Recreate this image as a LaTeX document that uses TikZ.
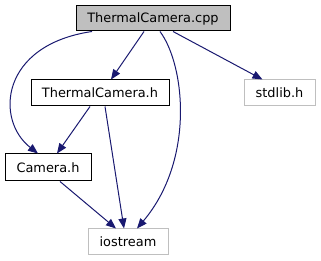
\documentclass[tikz,border=0pt]{standalone}
\usepackage{fontspec}
\setmainfont{DejaVu Sans}
\usepackage{tikz}
\usepackage{xcolor}
\usetikzlibrary{arrows.meta, positioning}

\definecolor{edgeblue}{HTML}{191970}
\definecolor{boxgray}{HTML}{BFBFBF}

\begin{document}
\begin{tikzpicture}[x=1pt, y=-1pt,
    file/.style={draw=black, line width=1pt, inner sep=0pt, font=\fontsize{12.9}{15}\selectfont},
    sysfile/.style={file, draw=boxgray},
    inc/.style={draw=edgeblue, line width=1pt, -{Triangle[length=10pt, width=8pt]}}]
    \useasboundingbox (0,0) rectangle (321,261);

    % Files
    \node[file, fill=boxgray, minimum width=154pt, minimum height=25pt] (cpp) at (153,18.5) {ThermalCamera.cpp};
    \node[file, minimum width=138pt, minimum height=26pt] (thermh) at (100,93) {ThermalCamera.h};
    \node[sysfile, minimum width=71pt, minimum height=26pt] (stdlib) at (279.5,93) {stdlib.h};
    \node[file, minimum width=86pt, minimum height=27pt] (camh) at (48,167.5) {Camera.h};
    \node[sysfile, minimum width=80pt, minimum height=26pt] (iostream) at (128,242) {iostream};

    % Includes
    \draw[inc] ([xshift=-9pt]cpp.south) -- ([xshift=11pt]thermh.north);
    \draw[inc] ([xshift=20pt]cpp.south) -- ([xshift=-17pt]stdlib.north);
    \draw[inc] ([xshift=-61pt]cpp.south) .. controls (0,45) and (-5,120) .. ([xshift=-10pt]camh.north);
    \draw[inc] ([xshift=7pt]cpp.south) .. controls (185,65) and (195,160) .. ([xshift=9pt]iostream.north);
    \draw[inc] ([xshift=-10pt]thermh.south) -- ([xshift=9pt]camh.north);
    \draw[inc] ([xshift=5pt]thermh.south) -- ([xshift=-4pt]iostream.north);
    \draw[inc] ([xshift=12pt]camh.south) -- ([xshift=-12pt]iostream.north);
\end{tikzpicture}
\end{document}
